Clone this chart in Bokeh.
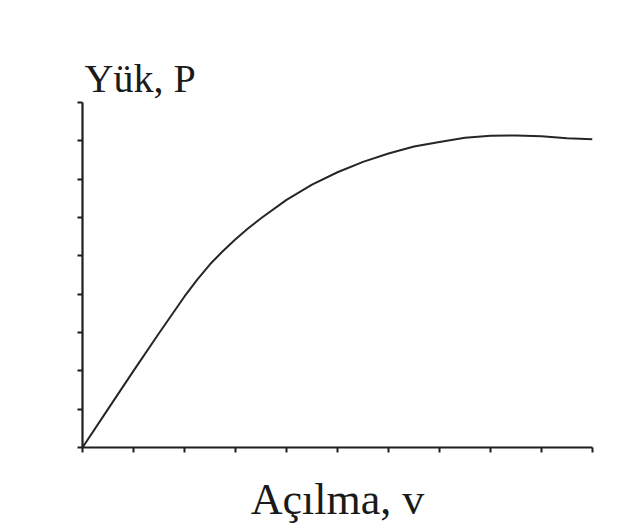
from bokeh.plotting import figure
from bokeh.models import Range1d, FixedTicker
from bokeh.embed import file_html
from bokeh.resources import INLINE

# Data (opening v vs load P, arbitrary units)
acilma = [0, 0.5, 1.0, 1.5, 2.0, 2.25, 2.5, 2.75, 3.0, 3.25, 3.5, 4.0, 4.5, 5.0,
          5.5, 6.0, 6.5, 7.0, 7.5, 8.0, 8.5, 9.0, 9.5, 10.0]
yuk = [0.0, 1.0, 2.0, 2.98, 3.94, 4.38, 4.78, 5.12, 5.43, 5.72, 5.98, 6.46, 6.86, 7.18,
       7.45, 7.67, 7.85, 7.97, 8.08, 8.13, 8.14, 8.12, 8.07, 8.04]
x_ticks = list(range(0, 11))
y_ticks = list(range(0, 10))
x_title = "Açılma, v"
y_title = "Yük, P"

p = figure(width=640, height=532, output_backend="svg", toolbar_location=None,
           x_range=Range1d(0, 10), y_range=Range1d(0, 9),
           min_border_left=82, min_border_right=48,
           min_border_top=102, min_border_bottom=85,
           title=y_title)
p.background_fill_color = "white"
p.border_fill_color = "white"
p.outline_line_color = None
p.grid.grid_line_color = None

p.title.text_font = "Liberation Serif"
p.title.text_font_size = "40px"
p.title.text_font_style = "normal"
p.title.text_color = "#1a1a1a"
p.title.align = "left"
p.title.offset = 2
p.title.standoff = 4

for ax, ticks in ((p.xaxis[0], x_ticks), (p.yaxis[0], y_ticks)):
    ax.ticker = FixedTicker(ticks=ticks)
    ax.axis_line_color = "#1e1e1e"
    ax.axis_line_width = 2.2
    ax.major_tick_line_color = "#1e1e1e"
    ax.major_tick_line_width = 2
    ax.major_tick_out = 5
    ax.major_tick_in = 0
    ax.minor_tick_line_color = None
    ax.major_label_overrides = {t: "" for t in ticks}
    ax.major_label_standoff = 0

p.xaxis.axis_label = x_title
p.xaxis.axis_label_text_font = "Liberation Serif"
p.xaxis.axis_label_text_font_size = "44px"
p.xaxis.axis_label_text_font_style = "normal"
p.xaxis.axis_label_text_color = "#1a1a1a"
p.xaxis.axis_label_standoff = 22

p.line(acilma, yuk, line_color="#262626", line_width=2, line_join="round")

open("out.html", "w").write(file_html(p, INLINE))
